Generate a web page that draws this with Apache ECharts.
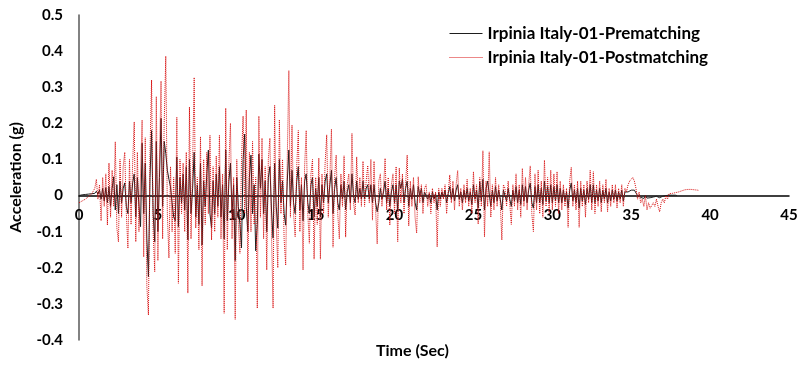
<!DOCTYPE html>
<html>
<head>
<meta charset="utf-8">
<script src="https://cdn.jsdelivr.net/npm/echarts@6/dist/echarts.min.js"></script>
<style>
  html, body { margin: 0; padding: 0; background: #fff; }
  #chart { width: 804px; height: 369px; }
</style>
</head>
<body>
<div id="chart"></div>
<script>
// Ground-motion record sampled every 0.1 s (acceleration in g)
const dt = 0.1;

const seriesNames = ['Irpinia Italy-01-Prematching', 'Irpinia Italy-01-Postmatching'];

// Recorded (pre-matching) acceleration, from t = 0 s
const preAccel = [
  0,0,0.002,-0.002,0.003,0.002,0.004,0.006,0.005,0.008,
  0.006,0.012,0.004,0.015,-0.01,0.02,-0.015,0.022,-0.02,0.025,
  -0.03,0.02,0.052,-0.04,0.03,-0.05,0.04,-0.02,0.02,0.035,
  -0.03,-0.05,0.04,-0.02,0.035,0.06,-0.06,0.05,-0.03,-0.086,
  0.145,-0.05,0.09,-0.12,-0.225,0.05,0.18,-0.05,-0.128,0.15,
  -0.1,0.05,0.214,-0.03,0.15,0.117,0.07,0.045,0.024,-0.02,
  -0.059,-0.07,0.107,-0.086,0.05,-0.02,0.06,-0.04,0.08,-0.123,
  0.1,-0.05,0.02,0.12,-0.06,0.03,-0.08,0.09,-0.137,0.04,
  -0.03,0.06,0.126,-0.05,-0.09,0.04,-0.05,0.06,-0.03,0.08,
  -0.06,0.03,-0.12,0.126,-0.07,0.04,0.09,-0.05,0.03,-0.18,
  0.05,-0.03,-0.08,-0.145,0.1,0.17,-0.03,-0.1,0.05,0.112,
  -0.05,0.03,-0.153,-0.08,0.115,0.02,0.1,-0.05,0.04,-0.1,
  0.05,0.08,-0.04,-0.118,0.09,-0.03,-0.09,0.1,-0.02,0.04,
  -0.05,-0.082,0.04,0.126,-0.03,0.07,-0.02,-0.05,0.04,0.08,
  -0.04,0.03,-0.07,0.04,0.06,-0.02,-0.05,0.03,0.05,-0.06,
  0.02,-0.03,0.05,-0.06,0.03,-0.02,0.04,0.06,-0.02,0.03,
  0.07,-0.05,0.02,0.05,-0.02,-0.04,0.03,-0.01,0.04,-0.04,
  0.01,0.03,-0.02,0.06,0.0,-0.02,0.04,-0.01,0.02,-0.01,
  0.04,-0.01,0.02,0.03,-0.01,0.03,-0.02,0.03,-0.02,-0.045,
  -0.02,0.02,-0.01,0.01,0.04,-0.02,0.02,-0.03,0.01,0.03,
  -0.02,0.03,-0.04,0.04,0.02,0.045,-0.02,0.02,0.04,-0.03,
  0.02,-0.01,0.03,-0.02,-0.04,0.025,0.0,0.02,-0.02,0.01,
  0.01,-0.01,0.005,-0.02,0.01,-0.01,0.005,-0.04,0.01,-0.01,
  0.01,-0.005,0.015,-0.02,0.005,0.025,-0.01,0.02,-0.015,0.015,
  0.03,-0.01,0.01,-0.02,0.015,-0.01,0.02,-0.015,0.01,-0.025,
  0.03,-0.01,0.015,-0.035,0.038,-0.015,0.045,-0.04,0.02,0.04,
  0.045,-0.03,0.015,-0.02,0.025,-0.015,0.015,-0.01,-0.04,0.015,
  0.01,-0.015,0.02,-0.01,-0.03,0.015,-0.015,0.025,-0.02,0.015,
  -0.025,0.03,-0.015,0.025,-0.02,0.015,0.035,-0.02,-0.035,0.025,
  -0.02,0.03,-0.02,0.02,-0.025,0.04,-0.015,0.025,-0.02,0.03,
  -0.02,0.025,-0.015,0.03,-0.02,0.02,-0.02,0.015,-0.015,0.01,
  -0.035,0.015,0.035,-0.015,0.015,-0.02,0.02,-0.035,0.02,-0.015,
  0.015,-0.025,0.02,-0.01,0.03,-0.02,0.03,-0.02,0.015,-0.015,
  0.02,-0.02,0.015,-0.01,0.02,-0.02,0.01,-0.015,0.015,-0.01,
  0.015,-0.015,0.01,-0.01,0.015,-0.015,0.01,0.005,0.01,0.015,
  0.015,0.018,0.015,0.01,0.0,0.005,-0.005,0.0,-0.008,0.0,
  -0.007,-0.004,-0.006,-0.007,-0.004,-0.005,-0.002,-0.004,-0.006,-0.003,
  -0.002,-0.003,0.0,-0.001,0.001,0.0,0.001,0.0,0.001,0.0
];

// Spectrally matched (post-matching) acceleration, from t = 0 s
const postAccel = [
  -0.02,-0.018,-0.015,-0.012,-0.01,-0.006,-0.003,0.0,0.004,0.008,
  0.02,0.045,-0.01,0.03,-0.07,0.05,-0.03,0.06,-0.082,0.09,
  -0.06,0.07,-0.03,0.149,-0.09,-0.128,0.1,-0.06,0.08,0.12,
  -0.05,-0.146,0.1,-0.08,0.09,0.204,-0.128,0.12,-0.1,0.06,
  0.209,-0.17,0.16,-0.25,-0.331,0.12,0.32,-0.1,-0.211,0.274,
  -0.18,0.1,0.317,-0.12,0.2,0.386,-0.05,-0.173,0.08,-0.1,
  0.05,-0.16,0.217,-0.243,0.1,-0.05,0.09,-0.1,0.12,-0.27,
  0.245,-0.12,0.08,0.327,-0.09,0.05,-0.15,0.163,-0.25,0.1,
  -0.08,0.12,-0.05,0.167,-0.123,0.08,-0.1,0.11,-0.06,0.167,
  -0.12,0.06,-0.326,0.242,-0.15,0.09,0.2,-0.12,0.05,-0.343,
  0.1,-0.08,-0.16,0.1,0.22,-0.05,0.237,-0.239,0.12,-0.1,
  0.15,-0.08,0.05,-0.312,0.22,-0.06,0.159,-0.12,0.08,-0.206,
  0.1,0.159,-0.1,-0.312,0.25,-0.08,-0.2,0.21,-0.05,0.1,
  -0.12,-0.193,0.1,0.346,-0.06,0.195,-0.05,-0.114,0.08,0.18,
  -0.1,0.05,-0.206,0.08,0.18,-0.05,-0.132,0.06,0.1,-0.176,
  0.05,-0.08,0.104,-0.176,0.06,-0.05,0.09,0.168,-0.06,0.05,
  0.184,-0.143,0.05,0.112,-0.05,-0.12,0.06,-0.03,0.11,-0.115,
  0.03,0.06,-0.04,0.172,-0.02,-0.054,0.107,-0.02,0.05,-0.03,
  0.095,-0.03,0.04,0.083,-0.02,0.1,-0.068,0.095,-0.04,-0.134,
  0.04,0.06,-0.03,0.02,0.103,-0.04,0.05,-0.082,0.03,0.06,
  -0.05,0.08,-0.128,0.076,-0.02,0.06,-0.05,0.03,0.112,-0.084,
  0.04,-0.03,0.05,-0.06,-0.104,0.052,-0.02,0.03,-0.05,0.02,
  0.03,-0.03,0.01,-0.05,0.02,-0.02,0.01,-0.142,0.02,-0.03,
  0.02,-0.01,0.03,-0.05,0.01,0.057,-0.02,0.04,-0.04,0.03,
  0.069,-0.03,0.02,-0.04,0.03,-0.02,0.045,-0.03,0.02,-0.05,
  0.066,-0.02,0.03,-0.079,0.05,-0.03,0.124,-0.114,0.04,-0.03,
  0.121,-0.06,0.03,-0.04,0.05,-0.03,0.03,-0.02,-0.123,0.03,
  0.02,-0.03,0.04,-0.02,-0.08,0.03,-0.03,0.06,-0.04,0.03,
  -0.06,0.075,-0.03,0.05,-0.04,0.03,0.082,-0.05,-0.1,0.06,
  -0.04,0.07,-0.05,0.04,-0.06,0.098,-0.03,0.05,-0.05,0.07,
  -0.04,0.06,-0.03,0.066,-0.05,0.04,-0.04,0.03,-0.03,0.02,
  -0.088,0.04,0.078,-0.03,0.03,-0.04,0.04,-0.088,0.04,-0.03,
  0.03,-0.06,0.04,-0.02,0.07,-0.04,0.066,-0.05,0.03,-0.03,
  0.04,-0.045,0.03,-0.02,0.045,-0.045,0.02,-0.03,0.03,-0.02,
  0.03,-0.035,0.02,-0.02,0.03,-0.03,0.02,0.01,0.03,0.04,
  0.045,0.05,0.04,0.02,-0.01,0.01,-0.02,-0.01,-0.03,0.0,
  -0.04,-0.02,-0.035,-0.04,-0.02,-0.03,-0.01,-0.03,-0.045,-0.02,
  -0.01,-0.02,0.0,-0.01,0.005,0.0,0.006,0.003,0.008,0.006,
  0.01,0.012,0.013,0.015,0.016,0.017,0.017,0.016,0.017,0.016,
  0.016,0.015,0.015,0.014
];

// Axis ranges and tick spacing
const timeRange = [0, 45, 5];
const accelRange = [-0.4, 0.5, 0.1];

const toPairs = vals => vals.map((v, i) => [+(i * dt).toFixed(1), v]);

const FONT = 'Lato, "Open Sans", sans-serif';

// Plot area
const GRID = { left: 79, right: 15, top: 15, bottom: 29 };
const plotHeight = 369 - GRID.top - GRID.bottom;
// The time axis runs along the zero-acceleration line, labels hanging below it
const zeroShift = plotHeight * (0 - accelRange[0]) / (accelRange[1] - accelRange[0]);

const chart = echarts.init(document.getElementById('chart'), null, { renderer: 'canvas' });
chart.setOption({
  animation: false,
  backgroundColor: '#ffffff',
  grid: GRID,
  legend: {
    orient: 'vertical',
    left: 449,
    top: 25,
    padding: 0,
    itemWidth: 33,
    itemHeight: 10,
    itemGap: 7,
    itemStyle: { opacity: 0 },
    lineStyle: { width: 1 },
    textStyle: { fontFamily: FONT, fontWeight: 'bold', fontSize: 17, color: '#000' },
    data: seriesNames
  },
  xAxis: {
    type: 'value',
    min: timeRange[0], max: timeRange[1], interval: timeRange[2],
    position: 'bottom',
    offset: -zeroShift,
    axisLine: { onZero: false, lineStyle: { color: '#000', width: 1.5 } },
    axisTick: { show: false },
    splitLine: { show: false },
    axisLabel: { margin: 12, fontFamily: FONT, fontWeight: 'bold', fontSize: 15, color: '#000' }
  },
  yAxis: {
    type: 'value',
    min: accelRange[0], max: accelRange[1], interval: accelRange[2],
    name: 'Acceleration (g)',
    nameLocation: 'middle',
    nameGap: 55,
    nameRotate: 90,
    nameTextStyle: { fontFamily: FONT, fontWeight: 'bold', fontSize: 16, color: '#000' },
    axisLine: { show: true, onZero: false, lineStyle: { color: '#595959', width: 1.5 } },
    axisTick: { show: false },
    splitLine: { show: false },
    axisLabel: {
      margin: 16, fontFamily: FONT, fontWeight: 'bold', fontSize: 15, color: '#000',
      formatter: v => String(+v.toFixed(1))
    }
  },
  graphic: [{
    type: 'text',
    left: 376, top: 343,
    style: { text: 'Time (Sec)', font: 'bold 16px ' + FONT, fill: '#000' }
  }],
  series: [
    {
      name: seriesNames[0],
      type: 'line',
      symbol: 'none',
      data: toPairs(preAccel),
      lineStyle: { color: '#1e1e1e', width: 1 },
      itemStyle: { color: '#1e1e1e' },
      z: 2
    },
    {
      name: seriesNames[1],
      type: 'line',
      symbol: 'none',
      data: toPairs(postAccel),
      lineStyle: { color: '#d81010', width: 1, type: [1, 1] },
      itemStyle: { color: '#d81010' },
      z: 3
    }
  ]
});
</script>
</body>
</html>
